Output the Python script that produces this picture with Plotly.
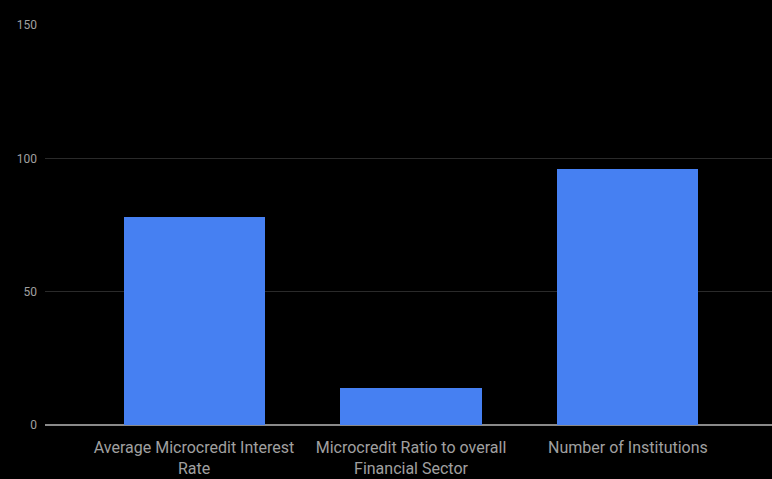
import plotly.graph_objects as go

categories = [
    "Average Microcredit Interest<br>Rate",
    "Microcredit Ratio to overall<br>Financial Sector",
    "Number of Institutions",
]
values = [78, 14, 96]
y_ticks = [0, 50, 100, 150]

fig = go.Figure(
    go.Bar(
        x=list(range(len(categories))),
        y=values,
        marker=dict(color="#4680f2", line=dict(width=0)),
        width=0.65,
    )
)

fig.update_layout(
    width=772,
    height=479,
    paper_bgcolor="#000000",
    plot_bgcolor="#000000",
    margin=dict(l=45, r=0, t=25, b=54),
    showlegend=False,
    font=dict(family="Roboto", color="#a8a8a8", size=13),
    bargap=0,
)
fig.update_xaxes(
    tickmode="array",
    tickvals=list(range(len(categories))),
    ticktext=categories,
    range=[-0.687, 2.664],
    showgrid=False,
    showline=False,
    zeroline=False,
    ticks="",
    ticklabelstandoff=11,
    automargin=False,
    tickfont=dict(size=16, color="#a0a0a0"),
)
fig.update_yaxes(
    range=[0, 150],
    tickvals=y_ticks,
    showgrid=True,
    gridcolor="#2a2a2a",
    gridwidth=1,
    zeroline=True,
    zerolinecolor="#8a8a8a",
    zerolinewidth=2,
    ticks="",
    ticklabelstandoff=7,
    tickfont=dict(size=12, color="#a0a0a0"),
)

fig.write_html("out.html")
